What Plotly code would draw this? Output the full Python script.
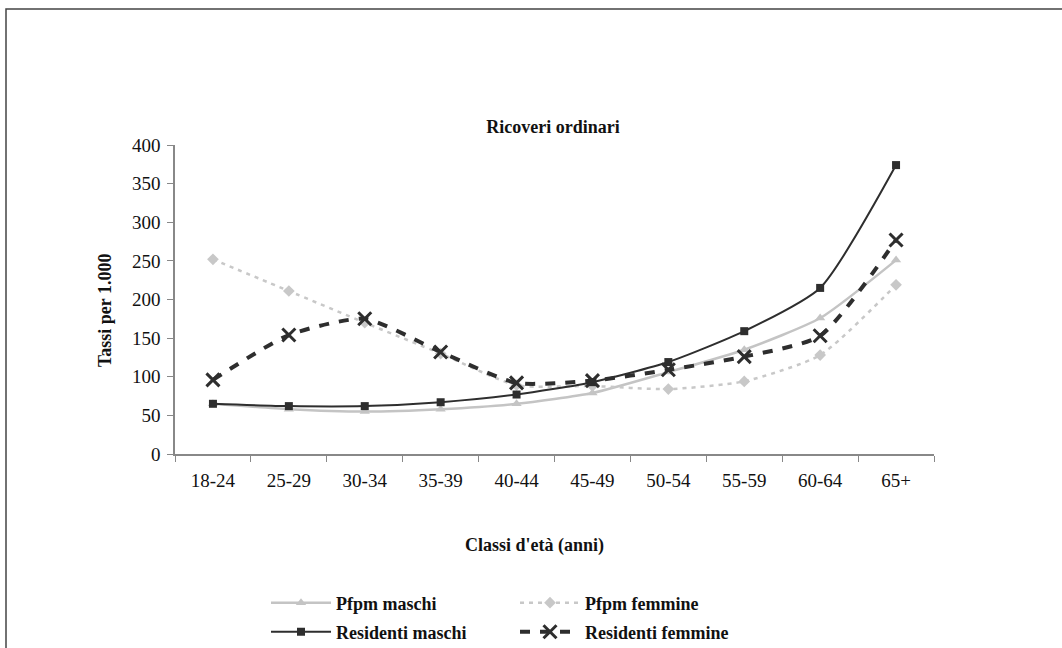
import plotly.graph_objects as go

categories = ["18-24", "25-29", "30-34", "35-39", "40-44", "45-49", "50-54", "55-59", "60-64", "65+"]
pfpm_maschi = [65, 58, 55, 58, 65, 79, 106, 135, 176, 251]
pfpm_femmine = [252, 211, 170, 130, 89, 88, 84, 94, 128, 219]
residenti_maschi = [65, 62, 62, 67, 77, 93, 119, 159, 215, 374]
residenti_femmine = [96, 154, 175, 132, 92, 95, 109, 126, 153, 277]
y_ticks = [0, 50, 100, 150, 200, 250, 300, 350, 400]

FONT = "Liberation Serif"

fig = go.Figure()
fig.add_trace(go.Scatter(
    x=categories, y=pfpm_maschi, name="<b>Pfpm maschi</b>", mode="lines+markers",
    line=dict(color="#c4c4c4", width=2.5, shape="spline", smoothing=0.6),
    marker=dict(symbol="triangle-up", size=9, color="#c4c4c4"), legend="legend"))
fig.add_trace(go.Scatter(
    x=categories, y=pfpm_femmine, name="<b>Pfpm femmine</b>", mode="lines+markers",
    line=dict(color="#c8c8c8", width=2.5, dash="4px,5px", shape="spline", smoothing=0.6),
    marker=dict(symbol="diamond", size=9, color="#c8c8c8"), legend="legend2"))
fig.add_trace(go.Scatter(
    x=categories, y=residenti_maschi, name="<b>Residenti maschi</b>", mode="lines+markers",
    line=dict(color="#2e2e2e", width=2, shape="spline", smoothing=0.6),
    marker=dict(symbol="square", size=8, color="#2e2e2e"), legend="legend3"))
fig.add_trace(go.Scatter(
    x=categories, y=residenti_femmine, name="<b>Residenti femmine</b>", mode="lines+markers",
    line=dict(color="#2e2e2e", width=4, dash="10px,10px", shape="spline", smoothing=0.6),
    marker=dict(symbol="x-thin", size=13, color="#2e2e2e", line=dict(color="#2e2e2e", width=3)),
    legend="legend4"))

W, H = 1062, 648
L, R, T, B = 175, 128, 145, 194
pw, ph = W - L - R, H - T - B

def px(x):
    return (x - L) / pw

def py(y):
    return 1 - (y - T) / ph

leg_common = dict(font=dict(family=FONT, size=18, color="#111"), bgcolor="rgba(0,0,0,0)",
                  xanchor="left", yanchor="middle", orientation="v", itemwidth=60)

fig.update_layout(
    width=W, height=H,
    margin=dict(l=L, r=R, t=T, b=B, autoexpand=False),
    paper_bgcolor="white", plot_bgcolor="white",
    font=dict(family=FONT, size=19, color="#111"),
    title=dict(text="<b>Ricoveri ordinari</b>", x=553 / W, xanchor="center",
               y=1 - 127 / H, yanchor="middle", font=dict(family=FONT, size=18, color="#111")),
    xaxis=dict(type="category", range=[-0.5, 9.5], showline=True, linecolor="#888", linewidth=1.5,
               ticks="outside", tickson="boundaries", ticklen=6, tickcolor="#888",
               ticklabelstandoff=8,
               showgrid=False, zeroline=False, tickfont=dict(family=FONT, size=19, color="#111")),
    yaxis=dict(range=[0, 400], tickvals=y_ticks, showline=True, linecolor="#888", linewidth=1.5,
               ticks="outside", ticklen=6, tickcolor="#888", showgrid=False, zeroline=False,
               ticklabelstandoff=3,
               tickfont=dict(family=FONT, size=19, color="#111")),
    legend=dict(x=px(266), y=py(603), **leg_common),
    legend2=dict(x=px(515), y=py(603), **leg_common),
    legend3=dict(x=px(266), y=py(632), **leg_common),
    legend4=dict(x=px(515), y=py(632), **leg_common),
    annotations=[
        dict(text="<b>Tassi per 1.000</b>", x=px(105), y=py(310), xref="paper", yref="paper",
             xanchor="center", yanchor="middle",
             textangle=-90, showarrow=False, font=dict(family=FONT, size=18, color="#111")),
        dict(text="<b>Classi d'età (anni)</b>", x=px(534), y=py(545), xref="paper", yref="paper",
             xanchor="center", yanchor="middle",
             showarrow=False, font=dict(family=FONT, size=18, color="#111")),
    ],
    shapes=[dict(type="rect", xref="paper", yref="paper",
                 x0=px(6), x1=px(1075), y0=py(660), y1=py(9),
                 line=dict(color="#444", width=1.5), fillcolor="rgba(0,0,0,0)", layer="below")],
    showlegend=True,
)

fig.write_html("out.html")
